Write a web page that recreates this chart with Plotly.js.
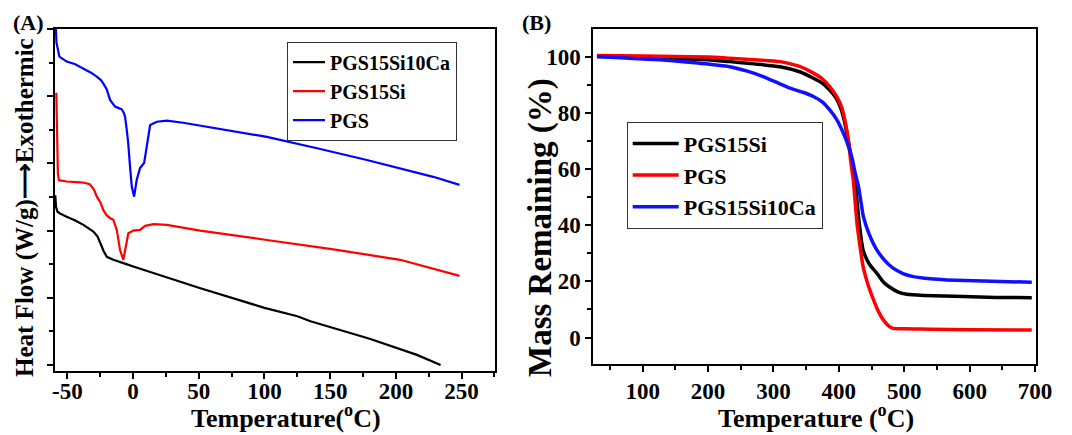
<!DOCTYPE html>
<html>
<head>
<meta charset="utf-8">
<script src="https://cdn.plot.ly/plotly-3.0.1.min.js"></script>
<style>html,body{margin:0;padding:0;background:#fff;}#chart{width:1072px;height:435px;}</style>
</head>
<body>
<div id="chart"></div>
<script>
// ---- Panel A: DSC (Heat Flow, arbitrary units) ----
const dscBlackX = [-59.2,-58.6,-57.5,-55.6,-50.5,-44,-37.8,-30.2,-27,-25.1,-22.5,-20,-15,-7.4,0.2,50,100,125,135,180,216,234];
const dscBlackY = [5.05,4.7,4.56,4.51,4.41,4.3,4.17,3.97,3.82,3.62,3.4,3.22,3.13,3.03,2.93,2.30,1.70,1.45,1.30,0.78,0.30,0.0];
const dscRedX = [-58.4,-58.1,-57.6,-57.2,-56.5,-50.5,-37.8,-33,-31.4,-29.5,-27.6,-25,-22.5,-20,-17,-15,-12.4,-9.9,-7.4,-5.3,-3.6,0.2,5.3,9.2,15.5,25.7,51,101.8,152.5,203.3,248.4];
const dscRedY = [8.1,7.0,6.5,5.7,5.5,5.46,5.43,5.38,5.31,5.2,5.01,4.85,4.6,4.45,4.36,4.32,4.02,3.42,3.13,3.52,3.92,4.0,4.02,4.14,4.19,4.17,4.0,3.72,3.44,3.13,2.65];
const dscBlueX = [-58.9,-58.3,-56.1,-53,-50.5,-44,-38,-32,-27.6,-24.5,-22.8,-20,-17.5,-13.7,-10,-8.6,-7,-6.1,-4.8,-3.7,-2.3,-1.0,0.8,2.8,5.3,8.4,10.4,13,18.1,25.7,38.1,70,101.8,140,177.9,228.4,248.4];
const dscBlueY = [10.2,9.6,9.18,9.1,9.03,8.95,8.83,8.7,8.58,8.48,8.39,8.2,7.89,7.69,7.63,7.61,7.5,7.39,7.0,6.61,5.9,5.31,5.01,5.51,5.86,6.01,6.5,7.14,7.24,7.27,7.21,7.0,6.79,6.45,6.10,5.60,5.36];

// ---- Panel B: TGA (Mass Remaining %) ----
const tgaBlackX = [30,100,150,200,233,270,310,340,361,375,386,395,402,408,414,419,424,430,437,447,458,468,478,490,504,530,590,640,695];
const tgaBlackY = [100,99.6,99.3,98.9,98.2,97.4,96.4,94.6,92.3,90.5,88.1,85.5,82.2,77.5,70.4,64,57.3,43.1,31.2,26,22.9,19.8,17.9,16.3,15.4,15.0,14.6,14.3,14.2];
const tgaRedX = [30,100,150,200,233,270,310,340,361,375,386,396,404,410,414.5,418,422,425,428,432,437,445,453,460,468,476,483,500,540,600,695];
const tgaRedY = [100.4,100.2,100,99.8,99.4,98.9,98.2,96.5,94.1,92,89.3,86,82.2,76.5,70.4,63,56.1,48,40,33,25.3,18.5,13.4,9.5,6.3,4.2,3.3,3.1,3.0,2.8,2.7];
const tgaBlueX = [30,80,131,180,233,260,284,305,325,345,361,375,386,397,407,414,420,425,430,434,437.4,446,458,470,483,498,514,540,565,620,695];
const tgaBlueY = [100,99.4,98.8,97.8,96.4,94.8,92.9,90.8,88.8,87.3,85.8,83.8,81.0,77.5,72.7,68.5,64,58.5,53.7,48,43.1,37,31.2,27.5,24.7,22.8,21.7,20.9,20.5,20.1,19.7];

const namesA = ['PGS15Si10Ca','PGS15Si','PGS'];
const namesB = ['PGS15Si','PGS','PGS15Si10Ca'];

// tick labels
const tickValsAx = [-50, 0, 50, 100, 150, 200, 250];
const tickValsBx = [100, 200, 300, 400, 500, 600, 700];
const tickValsBy = [0, 20, 40, 60, 80, 100];

const FAM = "'Liberation Serif', 'Times New Roman', Times, serif";
const W = 1072, H = 435;
const px = v => v / W, py = v => 1 - v / H;
const B = v => '<b>' + v + '</b>';

const traces = [
  {x: dscBlackX, y: dscBlackY, name: namesA[0], line: {color: '#000000', width: 2.2}},
  {x: dscRedX, y: dscRedY, name: namesA[1], line: {color: '#ff0000', width: 2.2}},
  {x: dscBlueX, y: dscBlueY, name: namesA[2], line: {color: '#0000ff', width: 2.2}},
].map(t => Object.assign(t, {type: 'scatter', mode: 'lines', xaxis: 'x', yaxis: 'y', legend: 'legend'}))
.concat([
  {x: tgaBlackX, y: tgaBlackY, name: namesB[0], line: {color: '#000000', width: 3.5, shape: 'spline', smoothing: 0.6}},
  {x: tgaRedX, y: tgaRedY, name: namesB[1], line: {color: '#ff0000', width: 3.5, shape: 'spline', smoothing: 0.6}},
  {x: tgaBlueX, y: tgaBlueY, name: namesB[2], line: {color: '#1010ff', width: 3.5, shape: 'spline', smoothing: 0.6}},
].map(t => Object.assign(t, {type: 'scatter', mode: 'lines', xaxis: 'x2', yaxis: 'y2', legend: 'legend2'})));

const bold = (s) => ({family: FAM, size: s, color: '#000', weight: 'bold'});
const axisCommon = {
  showline: true, linewidth: 2, linecolor: '#000', mirror: true,
  showgrid: false, zeroline: false, ticks: 'outside', ticklen: 6, tickwidth: 2, tickcolor: '#000',
  tickfont: bold(23), fixedrange: true
};
const minor = (d) => ({ticks: 'outside', ticklen: 4, tickwidth: 2, tickcolor: '#000', dtick: d, tick0: 0, showgrid: false});

const layout = {
  width: W, height: H,
  margin: {l: 0, r: 0, t: 0, b: 0},
  paper_bgcolor: '#fff', plot_bgcolor: '#fff',
  font: bold(22),
  showlegend: true,
  xaxis: Object.assign({}, axisCommon, {domain: [px(55), px(495)], anchor: 'y', range: [-59.4, 275.4],
    tickmode: 'array', tickvals: tickValsAx, ticktext: tickValsAx.map(B), minor: minor(25), ticklabelstandoff: -8}),
  yaxis: Object.assign({}, axisCommon, {domain: [py(371), py(29)], anchor: 'x', range: [-0.18, 10], tickmode: 'linear', tick0: 0, dtick: 2, showticklabels: false, minor: minor(1)}),
  xaxis2: Object.assign({}, axisCommon, {domain: [px(593.3), px(1036)], anchor: 'y2', range: [24.4, 701.5],
    tickmode: 'array', tickvals: tickValsBx, ticktext: tickValsBx.map(B), minor: minor(50), ticklabelstandoff: -1}),
  yaxis2: Object.assign({}, axisCommon, {domain: [py(364), py(29.3)], anchor: 'x2', range: [-9.4, 109.7],
    tickmode: 'array', tickvals: tickValsBy, ticktext: tickValsBy.map(B), minor: minor(10)}),
  legend: {x: px(287), y: py(41.7), xanchor: 'left', yanchor: 'top', bordercolor: '#333', borderwidth: 1, bgcolor: '#fff',
           font: bold(20), itemwidth: 32, tracegroupgap: 0},
  legend2: {x: px(626.7), y: py(121.7), xanchor: 'left', yanchor: 'top', bordercolor: '#333', borderwidth: 1, bgcolor: '#fff',
           font: bold(22), itemwidth: 46, tracegroupgap: 0},
  annotations: [
    {text: B('(A)'), x: px(29), y: py(23), xref: 'paper', yref: 'paper', showarrow: false, xanchor: 'center', yanchor: 'middle', font: bold(22)},
    {text: B('(B)'), x: px(536), y: py(23), xref: 'paper', yref: 'paper', showarrow: false, xanchor: 'center', yanchor: 'middle', font: bold(22)},
    {text: B('Temperature(<sup>o</sup>C)'), x: px(286), y: py(435), xref: 'paper', yref: 'paper', showarrow: false, xanchor: 'center', yanchor: 'bottom', font: bold(26)},
    {text: B('Temperature (<sup>o</sup>C)'), x: px(816), y: py(435), xref: 'paper', yref: 'paper', showarrow: false, xanchor: 'center', yanchor: 'bottom', font: bold(26)},
    {text: B('Heat Flow (W/g)⟶Exothermic'), x: px(25), y: py(208), xref: 'paper', yref: 'paper', showarrow: false, xanchor: 'center', yanchor: 'middle', textangle: -90, font: bold(25)},
    {text: B('Mass Remaining (%)'), x: px(540), y: py(228), xref: 'paper', yref: 'paper', showarrow: false, xanchor: 'center', yanchor: 'middle', textangle: -90, font: bold(33)}
  ]
};

Plotly.newPlot('chart', traces, layout, {displayModeBar: false, staticPlot: true});
</script>
</body>
</html>
